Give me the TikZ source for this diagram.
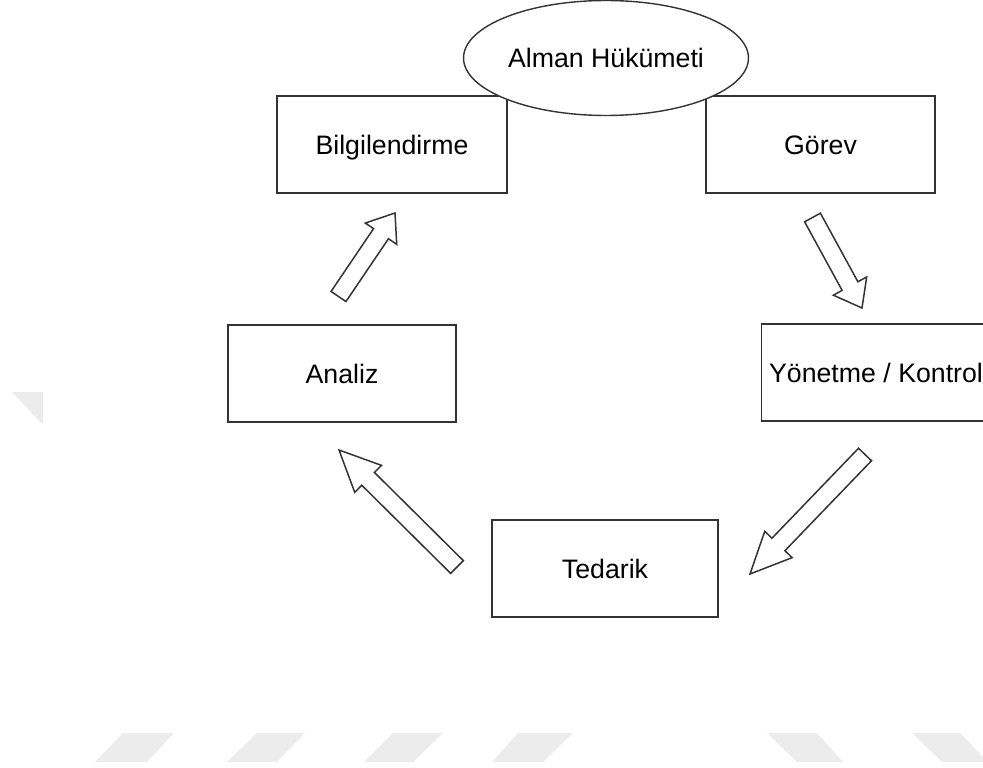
\documentclass[tikz,border=0pt]{standalone}
\usepackage{fontspec}
\setmainfont{Liberation Sans}
\usetikzlibrary{shapes.geometric, calc, positioning}
\definecolor{framegray}{RGB}{51, 51, 51}
\definecolor{markgray}{RGB}{236, 236, 236}
\tikzset{
  boxnode/.style={rectangle, draw=framegray, fill=white, line width=0.8pt, minimum width=4.58cm, minimum height=1.94cm, inner sep=0pt, text height=10.9pt, text depth=0pt, font=\fontsize{15.2}{18}\selectfont},
  ovalnode/.style={ellipse, draw=framegray, fill=white, line width=0.8pt, minimum width=5.7cm, minimum height=2.3cm, inner sep=0pt, text height=10.9pt, text depth=0pt, font=\fontsize{15.2}{18}\selectfont},
  blockarrow/.style={draw=framegray, fill=white, line width=0.85pt, line join=miter},
  wmark/.style={fill=markgray},
}
% tail, tip, head length
\newcommand{\drawblockarrow}[3]{%
  \coordinate (hb) at ($(#2)!#3!(#1)$);
  \draw[blockarrow] ($(#1)!0.18cm!90:(#2)$) -- ($(hb)!0.18cm!90:(#2)$) -- ($(hb)!0.38cm!90:(#2)$)
    -- (#2) -- ($(hb)!0.38cm!-90:(#2)$) -- ($(hb)!0.18cm!-90:(#2)$) -- ($(#1)!0.18cm!-90:(#2)$) -- cycle;
}

\begin{document}
\begin{tikzpicture}[x=0.02cm, y=-0.02cm]
\useasboundingbox (0,0) rectangle (983,767);
\clip (0,0) rectangle (983,767);

% faint marks
\fill[wmark] (12,392) -- (43,392) -- (43,425) -- cycle;
\foreach \a/\b/\c/\d in {123/174/147/95, 257/305/277/227, 393/443/413/364, 518/573/543/492, 767/817/843/797, 912/960/988/942}
  \fill[wmark] (\a,733) -- (\b,733) -- (\c,762) -- (\d,762) -- cycle;

% boxes
\node[boxnode, minimum width=4.6cm] (bilgi) at (392,144.5) {Bilgilendirme};
\node[boxnode] (gorev) at (820.5,144.5) {Görev};
\node[boxnode, minimum width=4.56cm] (analiz) at (342,373.5) {Analiz};
\node[boxnode] (yonetme) at (876,372.5) {Yönetme / Kontrol};
\node[boxnode, minimum width=4.52cm] (tedarik) at (605,568.5) {Tedarik};
\node[ovalnode] (hukumet) at (606,58) {Alman Hükümeti};

% block arrows
\coordinate (a1t) at (338.5,296.5);
\coordinate (a1h) at (395,213);
\coordinate (a2t) at (812.5,217.5);
\coordinate (a2h) at (862,308);
\coordinate (a3t) at (865,454.5);
\coordinate (a3h) at (750,574);
\coordinate (a4t) at (457,567);
\coordinate (a4h) at (339,450);
\drawblockarrow{a1t}{a1h}{0.5cm}
\drawblockarrow{a2t}{a2h}{0.5cm}
\drawblockarrow{a3t}{a3h}{0.82cm}
\drawblockarrow{a4t}{a4h}{0.82cm}
\end{tikzpicture}
\end{document}
